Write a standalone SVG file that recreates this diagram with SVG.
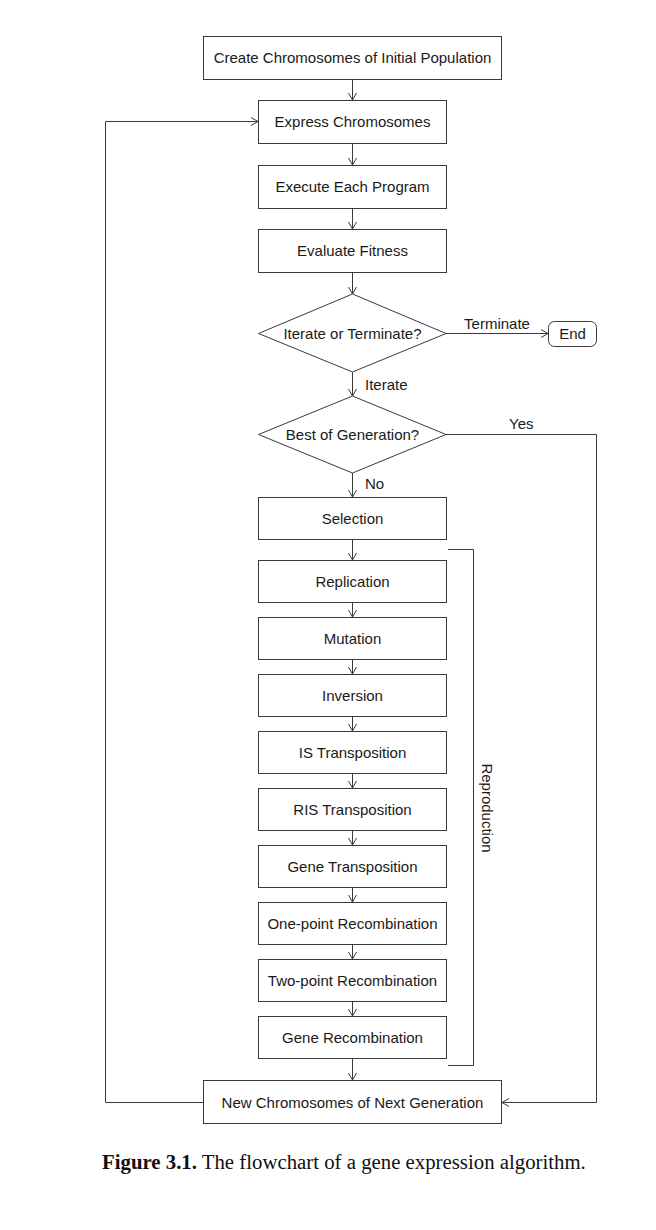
<svg xmlns="http://www.w3.org/2000/svg" width="656" height="1230" viewBox="0 0 656 1230">
  <style>
    .box { fill: #ffffff; stroke: #3a3a3a; stroke-width: 1; }
    .wire { fill: none; stroke: #3a3a3a; stroke-width: 1; }
    .lbl { font-family: "Liberation Sans", Arial, sans-serif; font-size: 15px; fill: #1a1a1a; text-anchor: middle; }
    .tag { font-family: "Liberation Sans", Arial, sans-serif; font-size: 15px; fill: #1a1a1a; }
    .cap { font-family: "Liberation Serif", "Times New Roman", serif; font-size: 20.8px; fill: #111111; }
  </style>
  <defs>
    <marker id="arr" viewBox="0 0 10 10" refX="10" refY="5" markerWidth="10" markerHeight="10" markerUnits="userSpaceOnUse" orient="auto">
      <path d="M3,1 L10,5 L3,9" fill="none" stroke="#3a3a3a" stroke-width="1"/>
    </marker>
  </defs>

  <rect width="656" height="1230" fill="#ffffff"/>

  <!-- connectors -->
  <g id="connectors" class="wire">
    <path d="M352.5,79 V100" marker-end="url(#arr)"/>
    <path d="M352.5,143 V165" marker-end="url(#arr)"/>
    <path d="M352.5,208 V229" marker-end="url(#arr)"/>
    <path d="M352.5,272 V294" marker-end="url(#arr)"/>
    <path d="M352.5,372 V396" marker-end="url(#arr)"/>
    <path d="M352.5,473 V497" marker-end="url(#arr)"/>
    <path d="M352.5,539 V560" marker-end="url(#arr)"/>
    <path d="M352.5,603 V617" marker-end="url(#arr)"/>
    <path d="M352.5,660 V674" marker-end="url(#arr)"/>
    <path d="M352.5,717 V731" marker-end="url(#arr)"/>
    <path d="M352.5,774 V788" marker-end="url(#arr)"/>
    <path d="M352.5,831 V845" marker-end="url(#arr)"/>
    <path d="M352.5,888 V902" marker-end="url(#arr)"/>
    <path d="M352.5,945 V959" marker-end="url(#arr)"/>
    <path d="M352.5,1002 V1016" marker-end="url(#arr)"/>
    <path d="M352.5,1059 V1080" marker-end="url(#arr)"/>
    <!-- terminate branch -->
    <path d="M446,333.5 H548" marker-end="url(#arr)"/>
    <!-- best-of-generation branch -->
    <path d="M446,434.5 H596.5 V1102.5 H502" marker-end="url(#arr)"/>
    <!-- loop back to expression -->
    <path d="M203,1102.5 H105.5 V121.5 H258" marker-end="url(#arr)"/>
    <!-- reproduction bracket -->
    <path d="M448,549.5 H473.5 V1065.5 H448"/>
  </g>

  <!-- branch labels -->
  <text class="lbl" x="497" y="329">Terminate</text>
  <text class="tag" x="365" y="390">Iterate</text>
  <text class="tag" x="509" y="429">Yes</text>
  <text class="tag" x="365" y="489">No</text>
  <text class="lbl" transform="translate(481.5,808) rotate(90)">Reproduction</text>

  <g id="create">
    <rect class="box" x="203.5" y="36.5" width="298" height="43"/>
    <text class="lbl" x="352.5" y="63.3">Create Chromosomes of Initial Population</text>
  </g>
  <g id="express">
    <rect class="box" x="258.5" y="100.5" width="188" height="43"/>
    <text class="lbl" x="352.5" y="127.3">Express Chromosomes</text>
  </g>
  <g id="execute">
    <rect class="box" x="258.5" y="165.5" width="188" height="43"/>
    <text class="lbl" x="352.5" y="192.3">Execute Each Program</text>
  </g>
  <g id="evaluate">
    <rect class="box" x="258.5" y="229.5" width="188" height="43"/>
    <text class="lbl" x="352.5" y="256.3">Evaluate Fitness</text>
  </g>
  <g id="iterate">
    <polygon class="box" points="352.5,294 446,333.5 352.5,372 258.5,333.5"/>
    <text class="lbl" x="352.5" y="338.8">Iterate or Terminate?</text>
  </g>
  <g id="end">
    <rect class="box" x="548.5" y="321.5" width="48" height="25" rx="6"/>
    <text class="lbl" x="572.5" y="339.3">End</text>
  </g>
  <g id="best">
    <polygon class="box" points="352.5,396 446,434.5 352.5,473 258.5,434.5"/>
    <text class="lbl" x="352.5" y="439.8">Best of Generation?</text>
  </g>
  <g id="selection">
    <rect class="box" x="258.5" y="497.5" width="188" height="42"/>
    <text class="lbl" x="352.5" y="523.8">Selection</text>
  </g>
  <g id="replication">
    <rect class="box" x="258.5" y="560.5" width="188" height="42"/>
    <text class="lbl" x="352.5" y="586.8">Replication</text>
  </g>
  <g id="mutation">
    <rect class="box" x="258.5" y="617.5" width="188" height="42"/>
    <text class="lbl" x="352.5" y="643.8">Mutation</text>
  </g>
  <g id="inversion">
    <rect class="box" x="258.5" y="674.5" width="188" height="42"/>
    <text class="lbl" x="352.5" y="700.8">Inversion</text>
  </g>
  <g id="is-transposition">
    <rect class="box" x="258.5" y="731.5" width="188" height="42"/>
    <text class="lbl" x="352.5" y="757.8">IS Transposition</text>
  </g>
  <g id="ris-transposition">
    <rect class="box" x="258.5" y="788.5" width="188" height="42"/>
    <text class="lbl" x="352.5" y="814.8">RIS Transposition</text>
  </g>
  <g id="gene-transposition">
    <rect class="box" x="258.5" y="845.5" width="188" height="42"/>
    <text class="lbl" x="352.5" y="871.8">Gene Transposition</text>
  </g>
  <g id="one-point">
    <rect class="box" x="258.5" y="902.5" width="188" height="42"/>
    <text class="lbl" x="352.5" y="928.8">One-point Recombination</text>
  </g>
  <g id="two-point">
    <rect class="box" x="258.5" y="959.5" width="188" height="42"/>
    <text class="lbl" x="352.5" y="985.8">Two-point Recombination</text>
  </g>
  <g id="gene-recombination">
    <rect class="box" x="258.5" y="1016.5" width="188" height="42"/>
    <text class="lbl" x="352.5" y="1042.8">Gene Recombination</text>
  </g>
  <g id="new-generation">
    <rect class="box" x="203.5" y="1080.5" width="298" height="43"/>
    <text class="lbl" x="352.5" y="1107.8">New Chromosomes of Next Generation</text>
  </g>

  <text class="cap" x="102" y="1169"><tspan font-weight="bold">Figure 3.1.</tspan> The flowchart of a gene expression algorithm.</text>
</svg>
